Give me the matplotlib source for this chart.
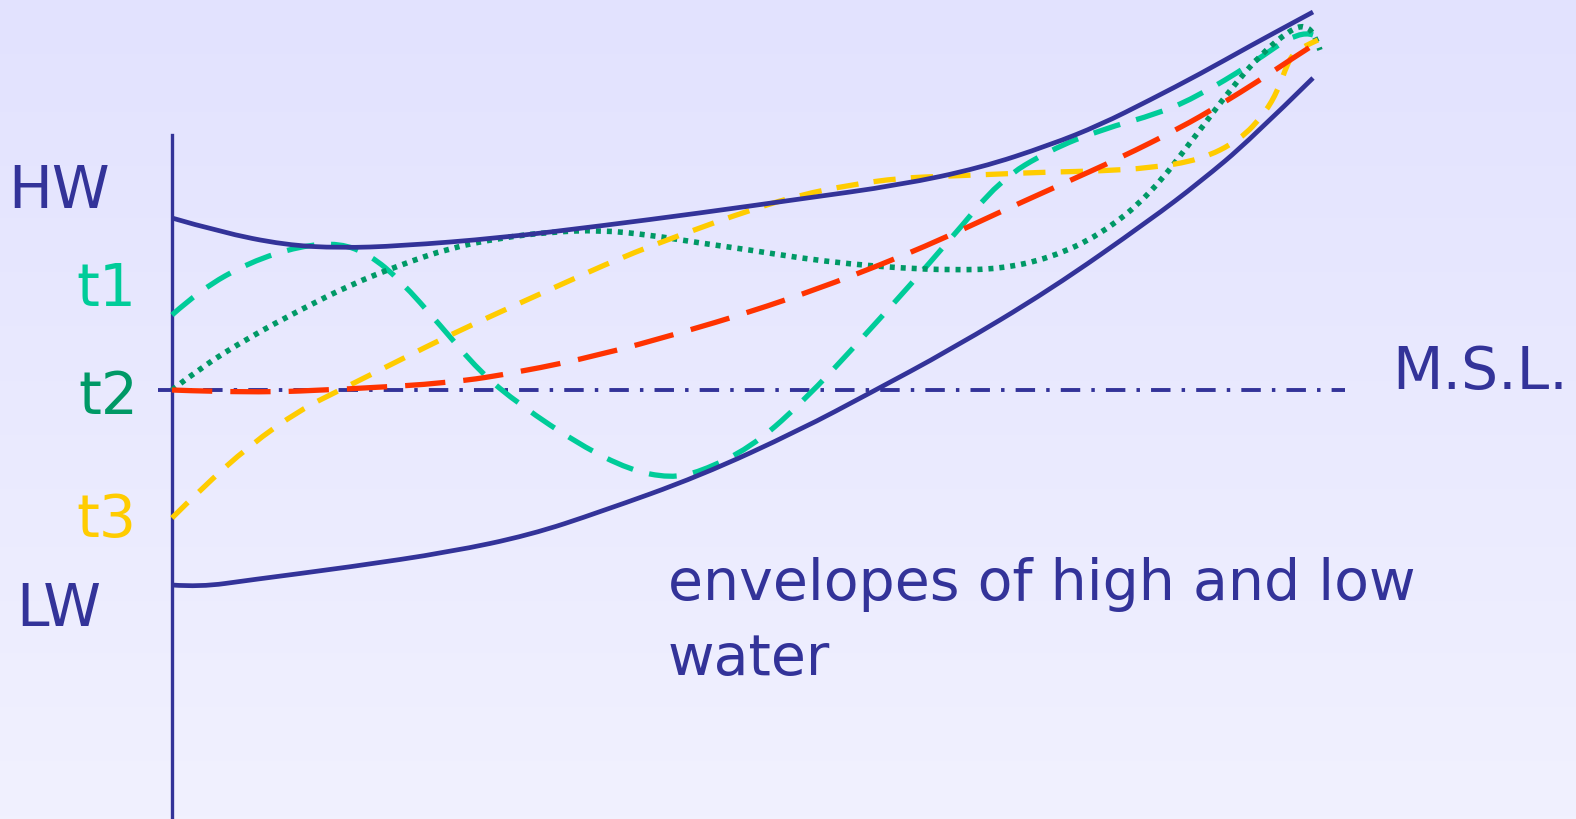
import matplotlib.pyplot as plt
from matplotlib.path import Path
from matplotlib.patches import PathPatch
import numpy as np

# curve samples (x, y in image pixels, y downward)
hw_x = [172, 220, 285, 340, 400, 500, 600, 700, 800, 900, 980, 1050, 1100, 1150, 1200, 1250, 1300, 1313]
hw_y = [218, 232, 245, 248, 246, 238, 226, 213, 199, 185, 168, 145, 125, 100, 74, 46, 19, 12]

lw_x = [172, 200, 250, 350, 450, 530, 600, 700, 800, 870, 950, 1050, 1150, 1200, 1250, 1313]
lw_y = [585, 587, 580, 567, 552, 535, 512, 476, 430, 393, 350, 290, 220, 182, 140, 78]

t1_x = [172, 200, 250, 300, 340, 370, 400, 440, 480, 520, 580, 630, 670, 700, 750, 800, 870, 950, 1000, 1050, 1100, 1160, 1200, 1250, 1300, 1313]
t1_y = [315, 290, 262, 246, 243, 255, 280, 325, 372, 405, 445, 470, 478, 472, 448, 405, 330, 240, 180, 150, 130, 113, 95, 65, 30, 35]

t2_x = [172, 200, 250, 300, 350, 400, 450, 500, 550, 600, 650, 700, 750, 800, 850, 900, 950, 1000, 1050, 1100, 1150, 1200, 1230, 1260, 1290, 1305, 1315, 1320]
t2_y = [390, 368, 337, 310, 285, 265, 248, 238, 232, 230, 235, 243, 250, 258, 264, 268, 270, 269, 258, 235, 195, 130, 90, 55, 30, 25, 35, 50]

t3_x = [172, 200, 250, 300, 340, 400, 450, 500, 560, 620, 680, 750, 800, 850, 900, 950, 1000, 1050, 1100, 1150, 1200, 1240, 1265, 1278, 1285, 1292, 1300, 1318]
t3_y = [518, 490, 445, 410, 390, 360, 335, 312, 285, 258, 235, 210, 195, 185, 178, 176, 174, 172, 171, 168, 160, 140, 113, 90, 70, 55, 48, 40]

red_x = [172, 250, 350, 450, 520, 600, 680, 750, 820, 880, 940, 1000, 1060, 1120, 1180, 1220, 1260, 1290, 1318]
red_y = [390, 393, 389, 383, 372, 355, 333, 312, 288, 265, 240, 212, 185, 158, 128, 105, 80, 60, 42]

msl_y = 390
labels = ["HW", "t1", "t2", "t3", "LW"]
label_y = [192, 290, 398, 520, 610]
label_right = [110, 136, 138, 136, 101]

NAVY = "#333399"
TEAL = "#00cc99"
GREEN = "#009966"
YELLOW = "#ffcc00"
RED = "#ff3300"
label_colors = [NAVY, TEAL, GREEN, YELLOW, NAVY]


def smooth_path(xs, ys):
    # quadratic bezier through midpoints, sample points as control points
    pts = np.column_stack([xs, ys]).astype(float)
    verts = [pts[0]]
    codes = [Path.MOVETO]
    for i in range(1, len(pts) - 1):
        mid = (pts[i] + pts[i + 1]) / 2
        if i == len(pts) - 2:
            mid = pts[i + 1]
        verts += [pts[i], mid]
        codes += [Path.CURVE3, Path.CURVE3]
    return Path(verts, codes)


def curve(ax, xs, ys, color, lw, ls="-", z=3):
    ax.add_patch(PathPatch(smooth_path(xs, ys), fill=False, edgecolor=color,
                           lw=lw, linestyle=ls, capstyle="butt",
                           joinstyle="round", zorder=z))


plt.rcParams["lines.scale_dashes"] = False
plt.rcParams["font.family"] = ["DejaVu Sans"]
fig = plt.figure(figsize=(15.76, 8.19), dpi=100)
ax = fig.add_axes([0, 0, 1, 1])
ax.set_xlim(0, 1576)
ax.set_ylim(819, 0)
ax.axis("off")

# background gradient, lavender at top fading lighter downward
grad = np.linspace(0, 1, 256).reshape(-1, 1)
top = np.array([226, 226, 254]) / 255
bot = np.array([241, 241, 254]) / 255
img = top + (bot - top) * grad[..., None]
ax.imshow(img, extent=[0, 1576, 819, 0], aspect="auto", zorder=0)

# axis line
ax.plot([172, 172], [135, 819], color=NAVY, lw=2.4, zorder=2)

# mean sea level
ax.plot([158, 1345], [msl_y, msl_y], color=NAVY, lw=2.8,
        dashes=(14, 8, 2.5, 8), solid_capstyle="butt", zorder=2)

# envelopes
curve(ax, hw_x, hw_y, NAVY, 3.4, z=4)
curve(ax, lw_x, lw_y, NAVY, 3.4, z=4)

# tide profiles
curve(ax, t1_x, t1_y, TEAL, 3.8, (0, (20, 12)))
curve(ax, t2_x, t2_y, GREEN, 4.0, (0, (3.6, 4.3)))
curve(ax, t3_x, t3_y, YELLOW, 3.8, (0, (16, 11)))
curve(ax, red_x, red_y, RED, 3.8, (0, (29, 13)))

for lab, y, xr, c in zip(labels, label_y, label_right, label_colors):
    ax.text(xr, y, lab, color=c, fontsize=42, ha="right", va="center")

ax.text(1392, 372, "M.S.L.", color=NAVY, fontsize=42, ha="left", va="center")
ax.text(668, 585, "envelopes of high and low", color=NAVY, fontsize=41,
        ha="left", va="center")
ax.text(668, 660, "water", color=NAVY, fontsize=41, ha="left", va="center")

fig.savefig("out.png", dpi=100)
